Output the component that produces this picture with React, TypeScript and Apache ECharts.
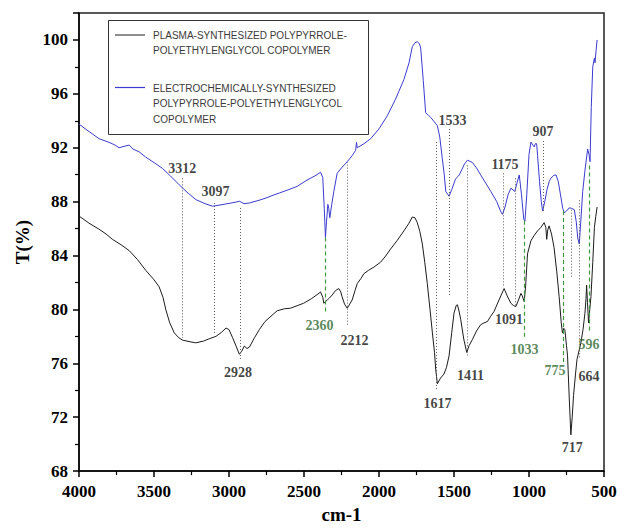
import React, { useEffect, useRef } from 'react';
import * as echarts from 'echarts';

// Plasma-synthesized copolymer spectrum: [wavenumber cm-1, T %]
const plasmaSpectrum: [number, number][] = [
  [4000, 86.93], [3933, 86.4], [3866, 85.95], [3820, 85.6], [3777, 85.2], [3720, 84.8],
  [3666, 84.37], [3610, 83.7], [3555, 82.9], [3500, 82.2], [3466, 81.68], [3440, 80.9],
  [3421, 79.97], [3395, 79.0], [3365, 78.26], [3335, 77.9], [3310, 77.72], [3260, 77.6],
  [3221, 77.52], [3170, 77.65], [3132, 77.82], [3087, 78.0], [3050, 78.3], [3020, 78.62],
  [3000, 78.5], [2976, 77.9], [2950, 77.2], [2931, 76.67], [2915, 76.9], [2898, 77.28],
  [2880, 77.1], [2864, 77.2], [2830, 77.9], [2798, 78.5], [2760, 79.1], [2720, 79.5],
  [2679, 79.9], [2630, 80.05], [2590, 80.09], [2540, 80.3], [2502, 80.46], [2450, 80.8],
  [2400, 81.2], [2390, 81.3], [2375, 80.9], [2368, 80.46], [2355, 80.6], [2345, 80.7],
  [2330, 80.85], [2312, 81.07], [2290, 81.4], [2268, 81.55], [2255, 81.3], [2246, 80.94],
  [2230, 80.4], [2212, 80.09], [2195, 80.4], [2179, 80.7], [2160, 81.4], [2145, 81.92],
  [2120, 82.3], [2101, 82.65], [2070, 82.9], [2034, 83.14], [1990, 83.5], [1960, 83.9],
  [1923, 84.48], [1880, 85.1], [1834, 85.83], [1800, 86.4], [1778, 86.86], [1760, 86.8],
  [1745, 86.44], [1728, 85.8], [1711, 84.85], [1695, 83.5], [1678, 81.92], [1660, 80.0],
  [1644, 78.26], [1630, 76.8], [1622, 75.57], [1611, 74.48], [1590, 74.9], [1567, 75.2],
  [1550, 75.7], [1533, 76.55], [1515, 78.3], [1500, 79.72], [1485, 80.3], [1477, 80.34],
  [1465, 79.8], [1455, 79.24], [1435, 77.8], [1415, 76.8], [1400, 77.3], [1377, 77.77],
  [1350, 78.4], [1322, 78.87], [1300, 79.0], [1277, 79.1], [1255, 79.5], [1233, 79.85],
  [1200, 80.7], [1166, 81.55], [1145, 81.0], [1121, 80.46], [1105, 80.3], [1088, 80.21],
  [1070, 80.7], [1054, 81.19], [1045, 81.0], [1032, 80.58], [1022, 81.8], [1010, 84.12],
  [987, 85.1], [965, 85.5], [943, 85.83], [920, 86.1], [899, 86.44], [888, 86.1],
  [882, 85.2], [875, 85.9], [866, 86.2], [850, 85.6], [833, 84.6], [815, 82.8],
  [799, 80.94], [785, 79.0], [777, 78.26], [768, 78.6], [761, 78.5], [750, 77.3],
  [743, 76.55], [732, 73.5], [721, 70.69], [712, 72.0], [703, 73.62], [690, 75.2],
  [680, 76.3], [665, 77.0], [654, 77.52], [640, 78.5], [627, 79.72], [620, 80.8],
  [616, 81.8], [610, 80.5], [603, 78.99], [595, 80.0], [587, 80.94], [575, 83.5],
  [564, 86.07], [555, 86.9], [546, 87.6],
];

// Electrochemically-synthesized copolymer spectrum: [wavenumber cm-1, T %]
const electroSpectrum: [number, number][] = [
  [4000, 93.75], [3933, 93.2], [3866, 92.67], [3800, 92.4], [3760, 92.2], [3733, 92.0],
  [3700, 92.1], [3666, 92.2], [3640, 91.9], [3600, 91.7], [3555, 91.3], [3500, 90.9],
  [3444, 90.47], [3390, 89.9], [3332, 89.25], [3280, 88.7], [3221, 88.15], [3160, 87.85],
  [3110, 87.66], [3060, 87.75], [3020, 87.83], [2960, 87.95], [2931, 88.03], [2900, 87.85],
  [2864, 87.9], [2800, 88.1], [2753, 88.27], [2700, 88.5], [2664, 88.64], [2600, 88.9],
  [2546, 89.13], [2480, 89.6], [2420, 89.95], [2390, 90.18], [2375, 89.8], [2365, 87.5],
  [2357, 85.34], [2350, 86.5], [2341, 87.8], [2335, 87.5], [2328, 86.8], [2315, 87.8],
  [2301, 88.76], [2279, 90.1], [2250, 90.5], [2212, 90.96], [2180, 91.4], [2156, 91.8],
  [2150, 92.4], [2145, 92.0], [2100, 92.3], [2056, 92.67], [2000, 93.4], [1945, 94.37],
  [1890, 95.6], [1834, 97.06], [1800, 98.3], [1778, 99.5], [1760, 99.8], [1744, 99.87],
  [1730, 99.7], [1722, 99.4], [1705, 97.0], [1689, 94.6], [1670, 94.4], [1655, 94.25],
  [1630, 93.9], [1611, 93.64], [1595, 92.8], [1578, 91.2], [1565, 90.0], [1555, 88.76],
  [1533, 88.4], [1515, 88.9], [1489, 89.7], [1470, 89.9], [1455, 90.2], [1430, 90.8],
  [1410, 91.08], [1377, 90.9], [1350, 90.5], [1322, 89.98], [1290, 89.4], [1255, 88.76],
  [1215, 88.0], [1190, 87.3], [1177, 87.05], [1160, 87.6], [1140, 88.5], [1121, 89.0],
  [1094, 88.76], [1080, 89.4], [1065, 89.98], [1050, 88.5], [1035, 86.7], [1027, 86.56],
  [1015, 88.5], [1000, 91.5], [987, 92.42], [975, 92.2], [965, 92.06], [958, 92.3],
  [949, 92.3], [943, 91.44], [930, 89.5], [918, 88.0], [909, 87.3], [895, 88.0],
  [880, 88.9], [865, 89.5], [854, 89.74], [835, 89.95], [820, 89.98], [805, 89.5],
  [790, 88.5], [775, 87.5], [765, 87.17], [750, 87.3], [732, 87.54], [715, 87.5],
  [698, 87.4], [685, 86.5], [675, 85.3], [665, 84.85], [655, 86.5], [642, 88.76],
  [625, 90.5], [609, 91.9], [600, 91.5], [593, 90.96], [585, 95.0], [575, 98.0],
  [564, 98.65], [560, 98.3], [553, 99.2], [546, 100.0],
];

// Peak annotations
const peakNames = ['3312', '3097', '2928', '2360', '2212', '1617', '1533', '1411', '1175', '1091', '1033', '907', '775', '717', '664', '596'];
const peakWn = [3312, 3097, 2928, 2360, 2212, 1617, 1533, 1411, 1175, 1091, 1033, 907, 775, 717, 664, 596];
const peakLineTop = [89.73, 87.9, 87.53, 85.34, 90.97, 92.43, 93.39, 90.69, 90.1, 89.73, 86.59, 92.5, 87.3, 87.4, 88.1, 90.69];
const peakLineBottom = [77.87, 78.16, 76.33, 79.85, 78.75, 73.99, 80.94, 76.55, 81.68, 80.21, 77.8, 87.17, 75.97, 82.4, 76.33, 78.24];
const labelWn = [3312, 3090, 2940, 2397, 2163, 1610, 1510, 1390, 1160, 1134, 1030, 907, 827, 712, 600, 600];
const labelT = [90.47, 88.78, 75.3, 78.82, 77.72, 73.03, 93.99, 75.08, 90.76, 79.26, 77.06, 93.18, 75.45, 69.74, 75.01, 77.36];
const peakGreen = [false, false, false, true, false, false, false, false, false, false, true, false, true, false, false, true];

const legendNames = [
  'PLASMA-SYNTHESIZED POLYPYRROLE-\nPOLYETHYLENGLYCOL COPOLYMER',
  'ELECTROCHEMICALLY-SYNTHESIZED\nPOLYPYRROLE-POLYETHYLENGLYCOL\nCOPOLYMER',
];

export default function App() {
  const ref = useRef<HTMLDivElement>(null);

  useEffect(() => {
    const chart = echarts.init(ref.current!, null, { renderer: 'svg' });
    const serif = '"Liberation Serif", "Times New Roman", serif';
    const sans = '"Liberation Sans", Arial, sans-serif';
    const black = '#1c1c1c';
    const blue = '#3b3bd0';

    const markData = peakWn.map((w, i) => [
      {
        coord: [w, peakLineTop[i]],
        lineStyle: peakGreen[i]
          ? { color: '#3d9a3d', type: [4, 3], width: 1.2 }
          : { color: '#5a5a5a', type: [1, 2], width: 1 },
      },
      { coord: [w, peakLineBottom[i]] },
    ]);

    const axisLabelStyle = {
      fontFamily: serif,
      fontWeight: 'bold' as const,
      fontSize: 17,
      color: '#000',
      formatter: (v: number) => String(v),
    };

    chart.setOption({
      animation: false,
      backgroundColor: '#fff',
      grid: {
        left: 79,
        right: 16,
        top: 13,
        bottom: 52,
        show: true,
        borderColor: '#222',
        borderWidth: 1.5,
      },
      xAxis: {
        type: 'value',
        inverse: true,
        min: 500,
        max: 4000,
        interval: 500,
        name: 'cm-1',
        nameLocation: 'middle',
        nameGap: 31,
        nameTextStyle: { fontFamily: serif, fontWeight: 'bold', fontSize: 19, color: '#000' },
        axisLine: { show: true, lineStyle: { color: '#000', width: 1.5 } },
        axisTick: { show: true, length: 6, lineStyle: { color: '#000', width: 1.5 } },
        minorTick: { show: true, splitNumber: 2, length: 4, lineStyle: { color: '#000', width: 1.2 } },
        splitLine: { show: false },
        axisLabel: { ...axisLabelStyle, margin: 12 },
      },
      yAxis: {
        type: 'value',
        min: 68,
        max: 102,
        interval: 4,
        name: 'T(%)',
        nameLocation: 'middle',
        nameGap: 42,
        nameTextStyle: { fontFamily: serif, fontWeight: 'bold', fontSize: 19, color: '#000' },
        axisLine: { show: true, lineStyle: { color: '#000', width: 1.5 } },
        axisTick: { show: true, length: 6, lineStyle: { color: '#000', width: 1.5 } },
        minorTick: { show: true, splitNumber: 2, length: 4, lineStyle: { color: '#000', width: 1.2 } },
        splitLine: { show: false },
        axisLabel: { ...axisLabelStyle, margin: 11, showMaxLabel: false },
      },
      series: [
        {
          name: legendNames[0],
          type: 'line',
          data: plasmaSpectrum,
          showSymbol: false,
          symbol: 'none',
          lineStyle: { color: black, width: 1 },
          z: 3,
          markLine: {
            silent: true,
            symbol: ['none', 'none'],
            label: { show: false },
            data: markData,
          },
        },
        {
          name: legendNames[1],
          type: 'line',
          data: electroSpectrum,
          showSymbol: false,
          symbol: 'none',
          lineStyle: { color: blue, width: 1 },
          z: 3,
        },
        {
          type: 'scatter',
          silent: true,
          symbolSize: 1,
          itemStyle: { color: 'rgba(0,0,0,0)' },
          z: 5,
          data: peakNames.map((n, i) => ({
            name: n,
            value: [labelWn[i], labelT[i]],
            label: { color: peakGreen[i] ? '#2f6a2f' : '#111' },
          })),
          label: {
            show: true,
            position: 'inside',
            formatter: '{b}',
            fontFamily: serif,
            fontWeight: 'bold',
            fontSize: 14,
          },
        },
      ],
      graphic: [
        {
          type: 'rect',
          shape: { x: 108.5, y: 20.5, width: 260, height: 114 },
          style: { fill: '#fff', stroke: '#333', lineWidth: 1 },
          z: 10,
        },
        {
          type: 'line',
          shape: { x1: 115, y1: 35, x2: 145, y2: 35 },
          style: { stroke: black, lineWidth: 1 },
          z: 11,
        },
        {
          type: 'line',
          shape: { x1: 115, y1: 87.5, x2: 145, y2: 87.5 },
          style: { stroke: blue, lineWidth: 1.2 },
          z: 11,
        },
        {
          type: 'text',
          x: 153,
          y: 28.5,
          style: {
            text: legendNames[0],
            font: `10px ${sans}`,
            lineHeight: 14.5,
            fill: '#3a3a3a',
            textVerticalAlign: 'top',
          },
          z: 11,
        },
        {
          type: 'text',
          x: 153,
          y: 80.5,
          style: {
            text: legendNames[1],
            font: `10px ${sans}`,
            lineHeight: 15.5,
            fill: '#3a3a3a',
            textVerticalAlign: 'top',
          },
          z: 11,
        },
      ],
    });

    return () => chart.dispose();
  }, []);

  return <div ref={ref} style={{ position: 'fixed', left: 0, top: 0, width: 620, height: 529 }} />;
}
